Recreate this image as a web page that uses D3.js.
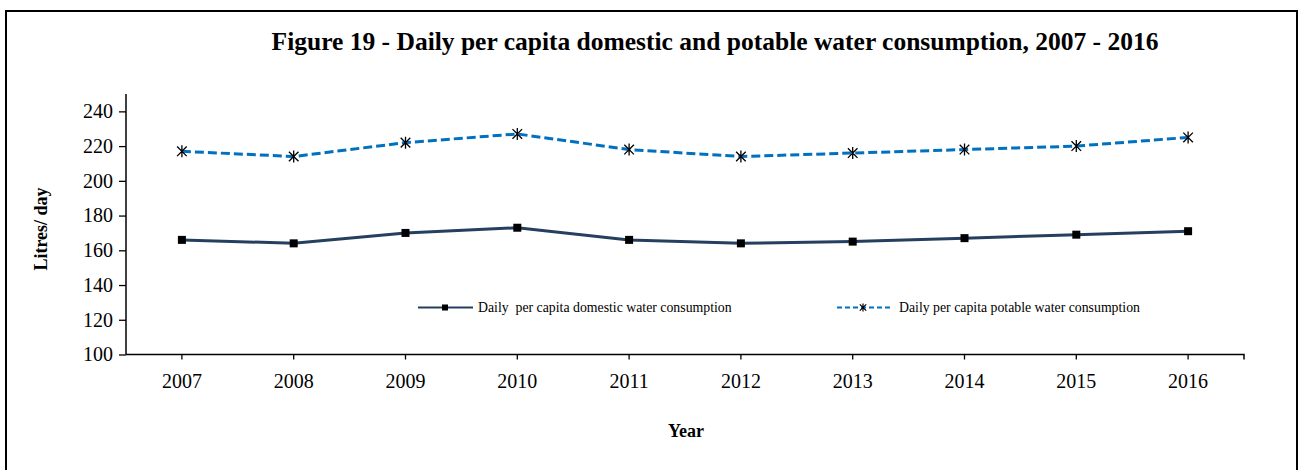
<!DOCTYPE html>
<html>
<head>
<meta charset="utf-8">
<script src="https://cdn.jsdelivr.net/npm/d3@7"></script>
<style>
  html, body { margin: 0; padding: 0; background: #fff; }
  svg { display: block; }
</style>
</head>
<body>
<svg id="chart" width="1301" height="470"></svg>
<script>
const years = ["2007","2008","2009","2010","2011","2012","2013","2014","2015","2016"];
const domestic = [166, 164, 170, 173, 166, 164, 165, 167, 169, 171];
const potable = [217, 214, 222, 227, 218, 214, 216, 218, 220, 225];
const yTicks = [100, 120, 140, 160, 180, 200, 220, 240];
const seriesNames = ["Daily  per capita domestic water consumption", "Daily per capita potable water consumption"];

(function () {
const svg = d3.select("#chart");
const font = "'Liberation Serif', 'Times New Roman', serif";

// outer frame
svg.append("rect").attr("x", 6).attr("y", 11).attr("width", 1291).attr("height", 470)
  .attr("fill", "none").attr("stroke", "#000").attr("stroke-width", 2);

const mLeft = 126, mRight = 1244, mTop = 94, mBottom = 354.5;
const x = d3.scaleBand().domain(years).range([mLeft, mRight]);
const y = d3.scaleLinear().domain([100, 250]).range([mBottom, mTop]);

// title
svg.append("text").attr("x", 715).attr("y", 50).attr("text-anchor", "middle")
  .attr("font-family", font).attr("font-weight", "bold").attr("font-size", 25.5)
  .text("Figure 19 - Daily per capita domestic and potable water consumption, 2007 - 2016");

// y axis
const yAxis = d3.axisLeft(y).tickValues(yTicks).tickSize(7).tickPadding(6).tickFormat(d3.format("d"));
const gy = svg.append("g").attr("transform", `translate(${mLeft},0)`).call(yAxis);
gy.select(".domain").attr("d", `M0,${mTop}V${mBottom}`).attr("stroke", "#000").attr("stroke-width", 1.5);
gy.selectAll(".tick line").attr("stroke", "#000").attr("stroke-width", 1.3);
gy.selectAll(".tick text").attr("font-family", font).attr("font-size", 20).attr("fill", "#000");

// x axis
const xAxis = d3.axisBottom(x).tickSize(5).tickPadding(14);
const gx = svg.append("g").attr("transform", `translate(0,${mBottom})`).call(xAxis);
gx.select(".domain").attr("d", `M${mLeft},0H${mRight}V5`).attr("stroke", "#000").attr("stroke-width", 1.5);
gx.selectAll(".tick line").attr("stroke", "#000").attr("stroke-width", 1.3);
gx.selectAll(".tick text").attr("font-family", font).attr("font-size", 20).attr("fill", "#000");

// axis titles
svg.append("text").attr("transform", "translate(47,229) rotate(-90)").attr("text-anchor", "middle")
  .attr("font-family", font).attr("font-weight", "bold").attr("font-size", 18).text("Litres/ day");
svg.append("text").attr("x", 686).attr("y", 437).attr("text-anchor", "middle")
  .attr("font-family", font).attr("font-weight", "bold").attr("font-size", 18).text("Year");

const cx = d => x(d) + x.bandwidth() / 2;
const line = d3.line().x(d => cx(d.year)).y(d => y(d.v));
const domData = years.map((yr, i) => ({year: yr, v: domestic[i]}));
const potData = years.map((yr, i) => ({year: yr, v: potable[i]}));

// domestic line
svg.append("path").datum(domData).attr("d", line).attr("fill", "none")
  .attr("stroke", "#243F60").attr("stroke-width", 3);
svg.append("g").selectAll("rect").data(domData).join("rect")
  .attr("x", d => cx(d.year) - 4).attr("y", d => y(d.v) - 4)
  .attr("width", 8).attr("height", 8).attr("fill", "#000");

// potable line
svg.append("path").datum(potData).attr("d", line).attr("fill", "none")
  .attr("stroke", "#0070C0").attr("stroke-width", 3).attr("stroke-dasharray", "9,4");

function asterisk(g, px, py, r, sw) {
  const a = r * 0.8;
  g.append("path")
    .attr("d", `M${px - a},${py - a}L${px + a},${py + a}M${px - a},${py + a}L${px + a},${py - a}M${px},${py - r}L${px},${py + r}`)
    .attr("stroke", "#000").attr("stroke-width", sw).attr("fill", "none");
}
const gm = svg.append("g");
potData.forEach(d => asterisk(gm, cx(d.year), y(d.v), 6, 1.3));

// legend
const lg = svg.append("g");
lg.append("line").attr("x1", 418).attr("x2", 473).attr("y1", 307.5).attr("y2", 307.5)
  .attr("stroke", "#243F60").attr("stroke-width", 2);
lg.append("rect").attr("x", 442).attr("y", 304.5).attr("width", 6).attr("height", 6).attr("fill", "#000");
lg.append("text").attr("x", 478).attr("y", 312).attr("font-family", font).attr("font-size", 13.8)
  .style("white-space", "pre").text(seriesNames[0]);

lg.append("line").attr("x1", 837).attr("x2", 890).attr("y1", 307.5).attr("y2", 307.5)
  .attr("stroke", "#0070C0").attr("stroke-width", 2).attr("stroke-dasharray", "5,3");
asterisk(lg, 863, 307.5, 4, 1.2);
lg.append("text").attr("x", 899).attr("y", 312).attr("font-family", font).attr("font-size", 13.8)
  .text(seriesNames[1]);
})();
</script>
</body>
</html>
